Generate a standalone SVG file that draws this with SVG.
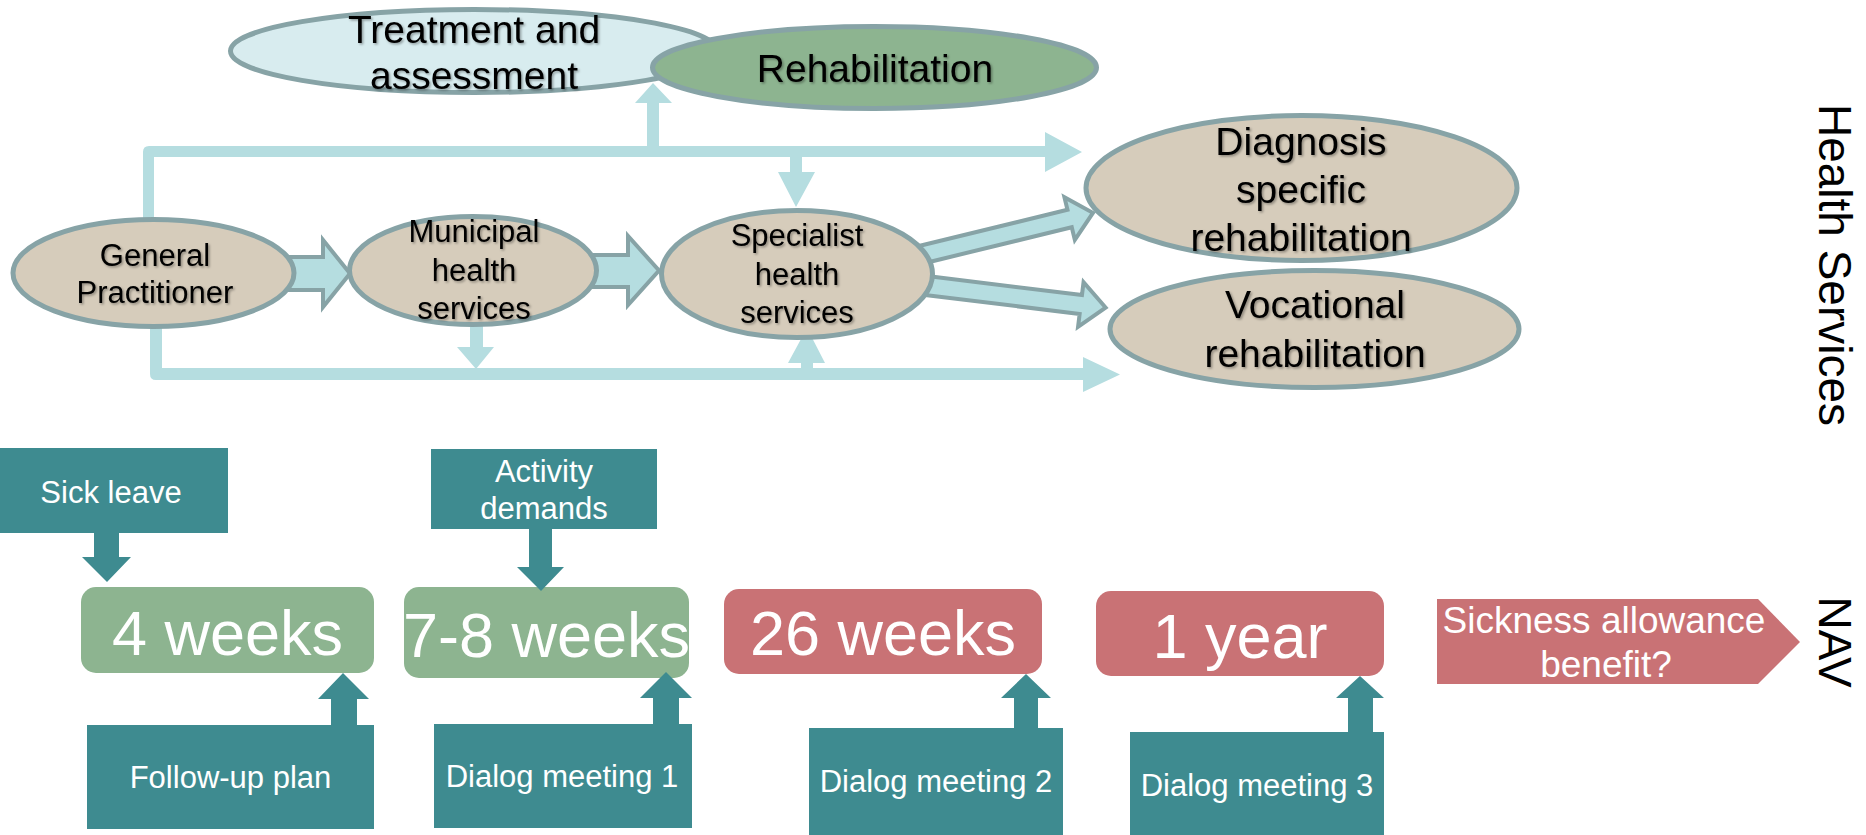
<svg xmlns="http://www.w3.org/2000/svg" width="1866" height="835" viewBox="0 0 1866 835">
  <defs>
    <filter id="txtShadow" x="-10%" y="-20%" width="120%" height="140%">
      <feDropShadow dx="1.5" dy="1.5" stdDeviation="1" flood-color="#000" flood-opacity="0.35"/>
    </filter>
  </defs>
  <style>
    text { font-family: "Liberation Sans", Arial, sans-serif; text-anchor: middle; }
    .oval { fill: #d6ccbb; stroke: #87a3a6; stroke-width: 5; }
    .oval-blue { fill: #d8ecef; stroke: #87a3a6; stroke-width: 5; }
    .oval-green { fill: #8db490; stroke: #87a3a6; stroke-width: 5; }
    .dark { fill: #000; filter: url(#txtShadow); }
    .t31 { font-size: 31px; }
    .t39 { font-size: 39px; }
    .flow { fill: #b5dde0; stroke: none; }
    .block { fill: #b5dde0; stroke: #87a3a6; stroke-width: 4; stroke-linejoin: miter; }
    .teal { fill: #3e8b90; }
    .green { fill: #8db490; }
    .red { fill: #c97275; }
    .light { fill: #fff; }
    .big { font-size: 63px; }
    .small { font-size: 31px; }
    .side { font-size: 46px; fill: #000; }
  </style>

  <!-- flow lines between health services -->
  <g id="connectors">
    <!-- upper bracket from GP to diagnosis specific rehabilitation -->
    <path class="flow" d="M143,218 V152 Q143,146 149,146 H1045 V132 L1082,152 L1045,172 V157 H154 V218 Z"/>
    <!-- branch up to treatment / rehabilitation -->
    <path class="flow" d="M647,147 V103 H635 L653,83 L672,103 H659 V147 Z"/>
    <!-- branch down to specialist health services -->
    <path class="flow" d="M790,156 V172 H778 L796,207 L815,172 H802 V156 Z"/>
    <!-- lower bracket from GP to vocational rehabilitation -->
    <path class="flow" d="M150,326 V374 Q150,380 156,380 H1083 V392 L1120,374.5 L1083,357 V368 H162 V326 Z"/>
    <!-- municipal down into lower bracket -->
    <path class="flow" d="M470,322 V347 H457 L476,369 L494,347 H483 V322 Z"/>
    <!-- lower bracket up into specialist -->
    <path class="flow" d="M801,369 V363 H788 L807,328 L825,363 H813 V369 Z"/>

    <!-- block arrows along the care chain -->
    <path class="block" d="M285,257 H323 V240 L350,273.5 L323,307 V290 H285 Z"/>
    <path class="block" d="M590,255 H628 V236 L659,270.5 L628,305 V287 H590 Z"/>
    <path class="block" transform="translate(920,255) rotate(-13.7)" d="M0,-9 H154 V-22 L178,0 L154,22 V9 H0 Z"/>
    <path class="block" transform="translate(922,285) rotate(7)" d="M0,-9.5 H160 V-22.5 L185,0 L160,22.5 V9.5 H0 Z"/>
  </g>

  <!-- health service nodes -->
  <g id="treatment">
    <ellipse class="oval-blue" cx="474" cy="51" rx="243.5" ry="41.5"/>
    <text class="dark t39" x="474" y="43">Treatment and</text>
    <text class="dark t39" x="474" y="89">assessment</text>
  </g>
  <g id="rehabilitation">
    <ellipse class="oval-green" cx="874.5" cy="67.5" rx="222" ry="41"/>
    <text class="dark t39" x="875" y="82">Rehabilitation</text>
  </g>
  <g id="general-practitioner">
    <ellipse class="oval" cx="153.5" cy="273" rx="140.5" ry="53.5"/>
    <text class="dark t31" x="155" y="266">General</text>
    <text class="dark t31" x="155" y="303">Practitioner</text>
  </g>
  <g id="municipal">
    <ellipse class="oval" cx="473" cy="270.5" rx="123.5" ry="54"/>
    <text class="dark t31" x="474" y="242">Municipal</text>
    <text class="dark t31" x="474" y="281">health</text>
    <text class="dark t31" x="474" y="319">services</text>
  </g>
  <g id="specialist">
    <ellipse class="oval" cx="797" cy="274" rx="135.5" ry="63.5"/>
    <text class="dark t31" x="797" y="246">Specialist</text>
    <text class="dark t31" x="797" y="285">health</text>
    <text class="dark t31" x="797" y="323">services</text>
  </g>
  <g id="diagnosis-rehab">
    <ellipse class="oval" cx="1301.5" cy="188" rx="215.5" ry="72.5"/>
    <text class="dark t39" x="1301" y="155">Diagnosis</text>
    <text class="dark t39" x="1301" y="203">specific</text>
    <text class="dark t39" x="1301" y="251">rehabilitation</text>
  </g>
  <g id="vocational-rehab">
    <ellipse class="oval" cx="1314.5" cy="329" rx="204.5" ry="58.5"/>
    <text class="dark t39" x="1315" y="318">Vocational</text>
    <text class="dark t39" x="1315" y="367">rehabilitation</text>
  </g>

  <!-- NAV timeline milestones -->
  <g id="sick-leave">
    <rect class="teal" x="0" y="448" width="228" height="85"/>
    <text class="light small" x="111" y="503">Sick leave</text>
  </g>
  <g id="activity-demands">
    <rect class="teal" x="431" y="449" width="226" height="80"/>
    <text class="light small" x="544" y="482">Activity</text>
    <text class="light small" x="544" y="519">demands</text>
  </g>
  <g id="week-4">
    <rect class="green" x="81" y="587" width="293" height="86" rx="15"/>
    <text class="light big" x="227.5" y="655">4 weeks</text>
  </g>
  <g id="week-7-8">
    <rect class="green" x="404" y="587" width="285" height="91" rx="15"/>
    <text class="light big" x="546.5" y="657">7-8 weeks</text>
  </g>
  <g id="week-26">
    <rect class="red" x="724" y="589" width="318" height="85" rx="15"/>
    <text class="light big" x="883" y="655">26 weeks</text>
  </g>
  <g id="year-1">
    <rect class="red" x="1096" y="591" width="288" height="85" rx="15"/>
    <text class="light big" x="1240" y="658">1 year</text>
  </g>
  <g id="sickness-allowance">
    <path class="red" d="M1437,599 H1758 L1800,642 L1758,684 H1437 Z"/>
    <text class="light" font-size="37" x="1604" y="633">Sickness allowance</text>
    <text class="light" font-size="37" x="1606" y="677">benefit?</text>
  </g>
  <g id="follow-up-plan">
    <rect class="teal" x="87" y="725" width="287" height="104"/>
    <text class="light small" x="230.5" y="788">Follow-up plan</text>
  </g>
  <g id="dialog-1">
    <rect class="teal" x="434" y="724" width="258" height="104"/>
    <text class="light small" x="562" y="787">Dialog meeting 1</text>
  </g>
  <g id="dialog-2">
    <rect class="teal" x="809" y="728" width="254" height="107"/>
    <text class="light small" x="936" y="792">Dialog meeting 2</text>
  </g>
  <g id="dialog-3">
    <rect class="teal" x="1130" y="732" width="254" height="103"/>
    <text class="light small" x="1257" y="796">Dialog meeting 3</text>
  </g>

  <!-- timeline arrows -->
  <g id="timeline-connectors">
    <path class="teal" d="M94,533 H119 V557 H131 L107,582 L82,557 H94 Z"/>
    <path class="teal" d="M529,529 H552 V567 H564 L541,591 L517,567 H529 Z"/>
    <path class="teal" d="M331,725 V699 H318 L343,673 L369,699 H357 V725 Z"/>
    <path class="teal" d="M653,724 V698 H640 L666,672 L692,698 H679 V724 Z"/>
    <path class="teal" d="M1014,728 V698 H1001 L1026,674 L1051,698 H1038 V728 Z"/>
    <path class="teal" d="M1348,732 V698 H1336 L1360,676 L1384,698 H1373 V732 Z"/>
  </g>

  <!-- section labels -->
  <g id="labels">
    <text class="side" transform="translate(1819,265) rotate(90)">Health Services</text>
    <text class="side" transform="translate(1819,642) rotate(90)">NAV</text>
  </g>
</svg>
